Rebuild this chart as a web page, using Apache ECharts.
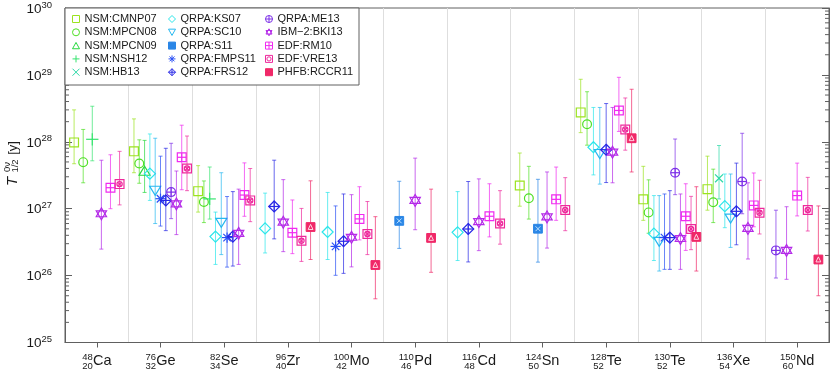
<!DOCTYPE html>
<html>
<head>
<meta charset="utf-8">
<script src="https://cdn.jsdelivr.net/npm/echarts@6/dist/echarts.min.js"></script>
<style>
  html, body { margin: 0; padding: 0; background: #fff; }
  #chart { width: 830px; height: 377px; }
</style>
</head>
<body>
<div id="chart"></div>
<script>
  const FONT = '"Liberation Sans", Arial, sans-serif';

  // isotopes on the x axis
  const massNumbers = ['48', '76', '82', '96', '100', '110', '116', '124', '128', '130', '136', '150'];
  const atomicNumbers = ['20', '32', '34', '40', '42', '46', '48', '50', '52', '52', '54', '60'];
  const elements = ['Ca', 'Ge', 'Se', 'Zr', 'Mo', 'Pd', 'Cd', 'Sn', 'Te', 'Te', 'Xe', 'Nd'];

  const modelNames = ['NSM:CMNP07', 'NSM:MPCN08', 'NSM:MPCN09', 'NSM:NSH12', 'NSM:HB13',
    'QRPA:KS07', 'QRPA:SC10', 'QRPA:S11', 'QRPA:FMPS11', 'QRPA:FRS12',
    'QRPA:ME13', 'IBM\u22122:BKI13', 'EDF:RM10', 'EDF:VRE13', 'PHFB:RCCR11'];
  const markerKinds = ['square', 'circle', 'triangle', 'plus', 'cross',
    'diamond', 'triDown', 'squareX', 'asterisk', 'diamondPlus',
    'circlePlus', 'hexagram', 'squarePlus', 'squareCircleX', 'squareTri'];
  const modelColors = ['#9be31f', '#4ee024', '#27d83f', '#36e46f', '#2ad8a6',
    '#2ae6ea', '#26b8f0', '#2a86e6', '#2a50f5', '#2828e6',
    '#7d30e8', '#b42ae8', '#f02af0', '#ee2a9c', '#f02868'];

  // half-life T(0v,1/2) in years per isotope: [value, lower end, upper end], null = not computed
  const CMNP07 = [[9.8e27, 4.7e27, 3.0e28], [7.2e27, 3.45e27, 2.2e28], [1.83e27, 8.9e26, 4.4e27], null, null, null, null,
    [2.22e27, 1.09e27, 6.8e27], [2.75e28, 1.37e28, 8.6e28], [1.38e27, 6.7e26, 4.3e27], [1.96e27, 9.5e26, 6.1e27], null];
  const MPCN08 = [[4.96e27, 2.44e27, 1.53e28], [4.73e27, 2.4e27, 1.07e28], [1.26e27, 6.2e26, 2.6e27], null, null, null, null,
    [1.43e27, 7.0e26, 4.3e27], [1.83e28, 8.9e27, 5.6e28], [8.8e26, 4.3e26, 2.7e27], [1.25e27, 6.2e26, 3.9e27], null];
  const MPCN09 = [null, [3.57e27, 1.75e27, 1.05e28], null, null, null, null, null, null, null, null, null, null];
  const NSH12 = [[1.09e28, 5.2e27, 3.4e28], null, [1.40e27, 7.0e26, 4.2e27], null, null, null, null, null, null, null, null, null];
  const HB13 = [null, null, null, null, null, null, null, null, null, null, [2.85e27, 1.40e27, 8.8e27], null];
  const KS07 = [null, [3.34e27, 1.33e27, 1.31e28], [3.83e26, 1.47e26, 8.9e26], [5.07e26, 2.18e26, 1.71e27], [4.49e26, 1.74e26, 1.75e27], null,
    [4.43e26, 1.68e26, 1.80e27], null, [8.3e27, 3.2e27, 3.26e28], [4.24e26, 1.68e26, 1.57e27], [1.09e27, 5.2e26, 3.3e27], null];
  const SC10 = [null, [1.92e27, 6.0e26, 1.13e28], [6.36e26, 2.06e26, 3.45e27], null, null, null, null, null,
    [6.8e27, 2.33e27, 3.26e28], [3.31e26, 1.17e26, 1.57e27], [7.35e26, 2.64e26, 3.3e27], null];
  const S11 = [null, null, null, null, null, [6.58e26, 2.55e26, 2.57e27], null, [5.02e26, 1.59e26, 2.75e27], null, null, null, null];
  const FMPS11 = [null, [1.41e27, 5.5e26, 6.1e27], [3.70e26, 1.34e26, 1.52e27], null, [2.73e26, 1.01e26, 1.10e27], null, null, null,
    null, [3.70e26, 1.24e26, 1.66e27], null, null];
  const FRS12 = [null, [1.33e27, 4.7e26, 8.0e27], [3.83e26, 1.39e26, 1.80e27], [1.08e27, 3.54e26, 5.31e27], [3.26e26, 1.08e26, 1.66e27], null,
    [4.97e26, 1.60e26, 2.55e27], null, [7.6e27, 2.46e27, 3.73e28], [3.70e26, 1.24e26, 1.86e27], [9.14e26, 2.89e26, 4.8e27], null];
  const ME13 = [null, [1.77e27, 7.1e26, 9.5e27], null, null, null, null, null, null,
    null, [3.45e27, 1.62e27, 1.10e28], [2.55e27, 8.4e26, 1.34e28], [2.38e26, 9.2e25, 9.5e26]];
  const BKI13 = [[8.4e26, 2.49e26, 5.3e27], [1.18e27, 4.1e26, 3.66e27], [4.28e26, 1.47e26, 1.96e27], [6.29e26, 2.28e26, 2.72e27],
    [3.74e26, 1.35e26, 1.62e27], [1.33e27, 4.85e26, 5.7e27], [6.42e26, 2.36e26, 2.79e27], [7.53e26, 2.58e26, 3.54e27],
    [7.0e27, 2.44e27, 3.26e28], [3.58e26, 1.24e26, 1.66e27], [5.07e26, 1.77e26, 2.44e27], [2.38e26, 8.8e25, 1.07e27]];
  const RM10 = [[2.06e27, 1.0e27, 6.4e27], [5.87e27, 1.92e27, 1.77e28], [1.60e27, 7.7e26, 4.84e27], [4.38e26, 2.13e26, 1.35e27],
    [7.04e26, 3.42e26, 2.13e27], null, [7.71e26, 3.79e26, 2.36e27], [1.38e27, 6.7e26, 4.19e27],
    [2.94e28, 1.43e28, 9.2e28], [7.71e26, 2.38e26, 2.36e27], [1.12e27, 5.37e26, 3.42e27], [1.57e27, 7.8e26, 4.8e27]];
  const VRE13 = [[2.33e27, 1.14e27, 7.2e27], [3.99e27, 1.86e27, 1.22e28], [1.33e27, 6.4e26, 3.99e27], [3.31e26, 1.63e26, 1.01e27],
    [4.19e26, 2.06e26, 1.28e27], null, [6.0e26, 2.95e26, 1.86e27], [9.54e26, 4.69e26, 2.91e27],
    [1.53e28, 7.5e27, 4.52e28], [4.97e26, 2.44e26, 1.53e27], [8.71e26, 4.19e26, 2.66e27], [9.54e26, 4.64e26, 2.94e27]];
  const RCCR11 = [null, null, null, [5.32e26, 1.74e26, 2.61e27], [1.44e26, 4.5e25, 7.6e26], [3.66e26, 1.12e26, 1.96e27], null, null,
    [1.13e28, 3.54e27, 6.1e28], [3.79e26, 1.17e26, 2.13e27], null, [1.74e26, 5.0e25, 1.10e27]];

  const modelData = [CMNP07, MPCN08, MPCN09, NSH12, HB13, KS07, SC10, S11, FMPS11, FRS12, ME13, BKI13, RM10, VRE13, RCCR11];

  // minor ticks of the log axis (2..9 per decade)
  const minorTickValues = [];
  for (let e = 25; e < 30; e++) {
    for (let m = 2; m <= 9; m++) minorTickValues.push([0, m * Math.pow(10, e)]);
  }

  const legendIcons = {
    square: 'path://M0,0L10,0L10,10L0,10Z',
    circle: 'path://M0,5A5,5,0,1,1,10,5A5,5,0,1,1,0,5Z',
    triangle: 'path://M5,0L10,9L0,9Z',
    plus: 'path://M5,0L5,10M0,5L10,5',
    cross: 'path://M0,0L10,10M10,0L0,10',
    diamond: 'path://M5,0L10,5L5,10L0,5Z',
    triDown: 'path://M0,1L10,1L5,10Z',
    squareX: 'path://M0,0L10,0L10,10L0,10Z',
    asterisk: 'path://M5,0L5,10M0,5L10,5M1.5,1.5L8.5,8.5M8.5,1.5L1.5,8.5',
    diamondPlus: 'path://M5,0L10,5L5,10L0,5ZM5,0L5,10M0,5L10,5',
    circlePlus: 'path://M0,5A5,5,0,1,1,10,5A5,5,0,1,1,0,5ZM5,0L5,10M0,5L10,5',
    hexagram: 'path://M5,0L9.33,7.5L0.67,7.5ZM5,10L0.67,2.5L9.33,2.5Z',
    squarePlus: 'path://M0,0L10,0L10,10L0,10ZM5,0L5,10M0,5L10,5',
    squareCircleX: 'path://M0,0L10,0L10,10L0,10ZM2,5A3,3,0,1,1,8,5A3,3,0,1,1,2,5Z',
    squareTri: 'path://M0,0L10,0L10,10L0,10Z'
  };
  const filledKinds = ['squareX', 'squareTri'];

  function markerShapes(kind, x, y, col) {
    const r = 4.4;
    const st = { stroke: col, fill: 'none', lineWidth: 1.2 };
    const ln = (x1, y1, x2, y2, s) => ({ type: 'line', shape: { x1, y1, x2, y2 }, style: s || st });
    const box = { type: 'rect', shape: { x: x - r, y: y - r, width: 2 * r, height: 2 * r }, style: st };
    const plus = (k) => [ln(x - k, y, x + k, y), ln(x, y - k, x, y + k)];
    const cross = (k, s) => [ln(x - k, y - k, x + k, y + k, s), ln(x + k, y - k, x - k, y + k, s)];
    const d = r * 1.25;
    switch (kind) {
      case 'square': return [box];
      case 'circle': return [{ type: 'circle', shape: { cx: x, cy: y, r: r }, style: st }];
      case 'triangle': return [{ type: 'polygon', shape: { points: [[x, y - d], [x + d, y + r * 0.8], [x - d, y + r * 0.8]] }, style: st }];
      case 'plus': return plus(r * 1.4);
      case 'cross': return cross(r * 0.9);
      case 'diamond': return [{ type: 'polygon', shape: { points: [[x, y - d], [x + d, y], [x, y + d], [x - d, y]] }, style: st }];
      case 'triDown': return [{ type: 'polygon', shape: { points: [[x - d, y - r * 0.8], [x + d, y - r * 0.8], [x, y + d]] }, style: st }];
      case 'squareX': return [{ type: 'rect', shape: { x: x - r, y: y - r, width: 2 * r, height: 2 * r }, style: { fill: col, stroke: col, lineWidth: 1 } }]
        .concat(cross(r * 0.55, { stroke: '#bfe2ff', lineWidth: 1 }));
      case 'asterisk': return plus(r * 1.15).concat(cross(r * 0.85));
      case 'diamondPlus': return [{ type: 'polygon', shape: { points: [[x, y - d], [x + d, y], [x, y + d], [x - d, y]] }, style: st }].concat(plus(d));
      case 'circlePlus': return [{ type: 'circle', shape: { cx: x, cy: y, r: r }, style: st }].concat(plus(r));
      case 'hexagram': {
        const h = r * 1.35;
        return [
          { type: 'polygon', shape: { points: [[x, y - h], [x + h * 0.87, y + h * 0.5], [x - h * 0.87, y + h * 0.5]] }, style: st },
          { type: 'polygon', shape: { points: [[x, y + h], [x - h * 0.87, y - h * 0.5], [x + h * 0.87, y - h * 0.5]] }, style: st }
        ];
      }
      case 'squarePlus': return [box].concat(plus(r));
      case 'squareCircleX': return [box, { type: 'circle', shape: { cx: x, cy: y, r: r * 0.6 }, style: st }].concat(cross(r * 0.45));
      case 'squareTri': return [
        { type: 'rect', shape: { x: x - r, y: y - r, width: 2 * r, height: 2 * r }, style: { fill: col, stroke: col, lineWidth: 1 } },
        { type: 'polygon', shape: { points: [[x, y - r * 0.6], [x + r * 0.55, y + r * 0.55], [x - r * 0.55, y + r * 0.55]] }, style: { fill: 'none', stroke: '#ffd6e2', lineWidth: 1 } }
      ];
    }
    return [];
  }

  // slot of each model inside an isotope column
  const counts = elements.map((_, i) => modelData.filter(d => d[i]).length);

  const pointSeries = modelNames.map((name, m) => {
    const col = modelColors[m];
    const data = [];
    modelData[m].forEach((v, i) => {
      if (!v) return;
      const k = modelData.slice(0, m).filter(d => d[i]).length;
      data.push([i + (k + 1) / (counts[i] + 1), v[0], v[1], v[2]]);
    });
    return {
      name: name,
      type: 'custom',
      xAxisIndex: 0,
      yAxisIndex: 0,
      itemStyle: { color: col },
      encode: { x: 0, y: 1 },
      data: data,
      z: 3,
      renderItem: function (params, api) {
        const x = api.value(0);
        const c = api.coord([x, api.value(1)]);
        const lo = api.coord([x, api.value(2)]);
        const hi = api.coord([x, api.value(3)]);
        const bar = { stroke: col, lineWidth: 1, opacity: 0.7 };
        const children = [
          { type: 'line', shape: { x1: c[0], y1: hi[1], x2: c[0], y2: lo[1] }, style: bar },
          { type: 'line', shape: { x1: c[0] - 2, y1: hi[1], x2: c[0] + 2, y2: hi[1] }, style: bar },
          { type: 'line', shape: { x1: c[0] - 2, y1: lo[1], x2: c[0] + 2, y2: lo[1] }, style: bar }
        ].concat(markerShapes(markerKinds[m], c[0], c[1], col));
        return { type: 'group', children: children };
      }
    };
  });

  const minorTickSeries = {
    name: 'minorTicks',
    type: 'custom',
    xAxisIndex: 0,
    yAxisIndex: 0,
    silent: true,
    data: minorTickValues,
    encode: { x: 0, y: 1 },
    renderItem: function (params, api) {
      const p = api.coord([0, api.value(1)]);
      const cs = params.coordSys;
      const st = { stroke: '#606060', lineWidth: 1 };
      return {
        type: 'group', children: [
          { type: 'line', shape: { x1: cs.x, y1: p[1], x2: cs.x + 4, y2: p[1] }, style: st },
          { type: 'line', shape: { x1: cs.x + cs.width - 4, y1: p[1], x2: cs.x + cs.width, y2: p[1] }, style: st }
        ]
      };
    }
  };

  const supRich = {
    s2: { fontSize: 9.5, fontFamily: FONT, color: '#1a1a1a', width: 11, align: 'right', verticalAlign: 'top', lineHeight: 10 },
    s3: { fontSize: 9.5, fontFamily: FONT, color: '#1a1a1a', width: 16, align: 'right', verticalAlign: 'top', lineHeight: 10 },
    e: { fontSize: 14.5, fontFamily: FONT, color: '#1a1a1a', lineHeight: 16, verticalAlign: 'bottom' },
    h: { fontSize: 14.5, fontFamily: FONT, color: 'rgba(0,0,0,0)', lineHeight: 16, verticalAlign: 'bottom' }
  };
  const catKeys = elements.map((e, i) => massNumbers[i] + e);

  const chart = echarts.init(document.getElementById('chart'));
  chart.setOption({
    animation: false,
    textStyle: { fontFamily: FONT },
    grid: { left: 65, right: 1, top: 8, bottom: 29, show: true, borderColor: '#606060', borderWidth: 1, backgroundColor: 'transparent' },
    legend: [0, 1, 2].map(col => ({
      orient: 'vertical',
      left: [72, 168, 265][col],
      top: 13.5,
      padding: 0,
      itemGap: 2.3,
      itemWidth: 7,
      itemHeight: 7,
      z: 10,
      selectedMode: false,
      textStyle: { fontSize: 11, fontFamily: FONT, color: '#1a1a1a', lineHeight: 11 },
      data: modelNames.slice(col * 5, col * 5 + 5).map((name, j) => {
        const m = col * 5 + j;
        const filled = filledKinds.indexOf(markerKinds[m]) >= 0;
        return {
          name: name,
          icon: legendIcons[markerKinds[m]],
          itemStyle: { color: filled ? modelColors[m] : 'transparent', borderColor: modelColors[m], borderWidth: 1 }
        };
      })
    })),
    graphic: [
      { type: 'rect', z: 5, shape: { x: 65, y: 8, width: 294, height: 77 }, style: { fill: '#fff', stroke: '#606060', lineWidth: 1 } },
      {
        type: 'group', x: 12.5, y: 181.5, rotation: Math.PI / 2, children: [
          { type: 'text', x: 0, y: 0, style: { text: 'T', font: 'italic 15px ' + FONT, fill: '#1a1a1a', align: 'center', verticalAlign: 'middle' } },
          { type: 'text', x: 14.5, y: -5.5, style: { text: '0\u03bd', font: '9.5px ' + FONT, fill: '#1a1a1a', align: 'center', verticalAlign: 'middle' } },
          { type: 'text', x: 15.5, y: 3, style: { text: '1/2', font: '9.5px ' + FONT, fill: '#1a1a1a', align: 'center', verticalAlign: 'middle' } },
          { type: 'text', x: 33.5, y: 0.5, style: { text: '[y]', font: '13px ' + FONT, fill: '#1a1a1a', align: 'center', verticalAlign: 'middle' } }
        ]
      }
    ],
    xAxis: [
      {
        type: 'value', min: 0, max: 12, interval: 1,
        axisLine: { show: false }, axisTick: { show: false }, axisLabel: { show: false },
        splitLine: { show: true, lineStyle: { color: '#dedede', width: 1 } }
      },
      {
        type: 'category', data: catKeys, position: 'bottom', boundaryGap: true,
        axisLine: { show: true, lineStyle: { color: '#606060' } },
        axisTick: { show: true, alignWithLabel: true, length: 5, lineStyle: { color: '#606060' } },
        splitLine: { show: false },
        axisLabel: {
          interval: 0, margin: 10, rich: supRich,
          formatter: (v, i) => '{' + (massNumbers[i].length > 2 ? 's3' : 's2') + '|' + massNumbers[i] + '}{e|' + elements[i] + '}'
        }
      },
      {
        type: 'category', data: catKeys, position: 'bottom', boundaryGap: true,
        axisLine: { show: false }, axisTick: { show: false }, splitLine: { show: false },
        axisLabel: {
          interval: 0, margin: 18.5, rich: supRich,
          formatter: (v, i) => '{' + (massNumbers[i].length > 2 ? 's3' : 's2') + '|' + atomicNumbers[i] + '}{h|' + elements[i] + '}'
        }
      }
    ],
    yAxis: [
      {
        type: 'log', logBase: 10, min: 1e25, max: 1e30,
        axisLine: { show: true, lineStyle: { color: '#606060' } },
        axisTick: { show: true, inside: true, length: 7, lineStyle: { color: '#606060' } },
        splitLine: { show: false },
        axisLabel: {
          margin: 13,
          formatter: v => '{m|10}{e|' + Math.round(Math.log10(v)) + '}',
          rich: {
            m: { fontSize: 13.5, fontFamily: FONT, color: '#1a1a1a', lineHeight: 16, verticalAlign: 'bottom' },
            e: { fontSize: 9.5, fontFamily: FONT, color: '#1a1a1a', lineHeight: 12, verticalAlign: 'top' }
          }
        }
      },
      {
        type: 'log', logBase: 10, min: 1e25, max: 1e30, position: 'right',
        axisLine: { show: true, lineStyle: { color: '#606060' } },
        axisTick: { show: true, inside: true, length: 7, lineStyle: { color: '#606060' } },
        axisLabel: { show: false },
        splitLine: { show: false }
      }
    ],
    series: [minorTickSeries].concat(pointSeries)
  });
</script>
</body>
</html>
